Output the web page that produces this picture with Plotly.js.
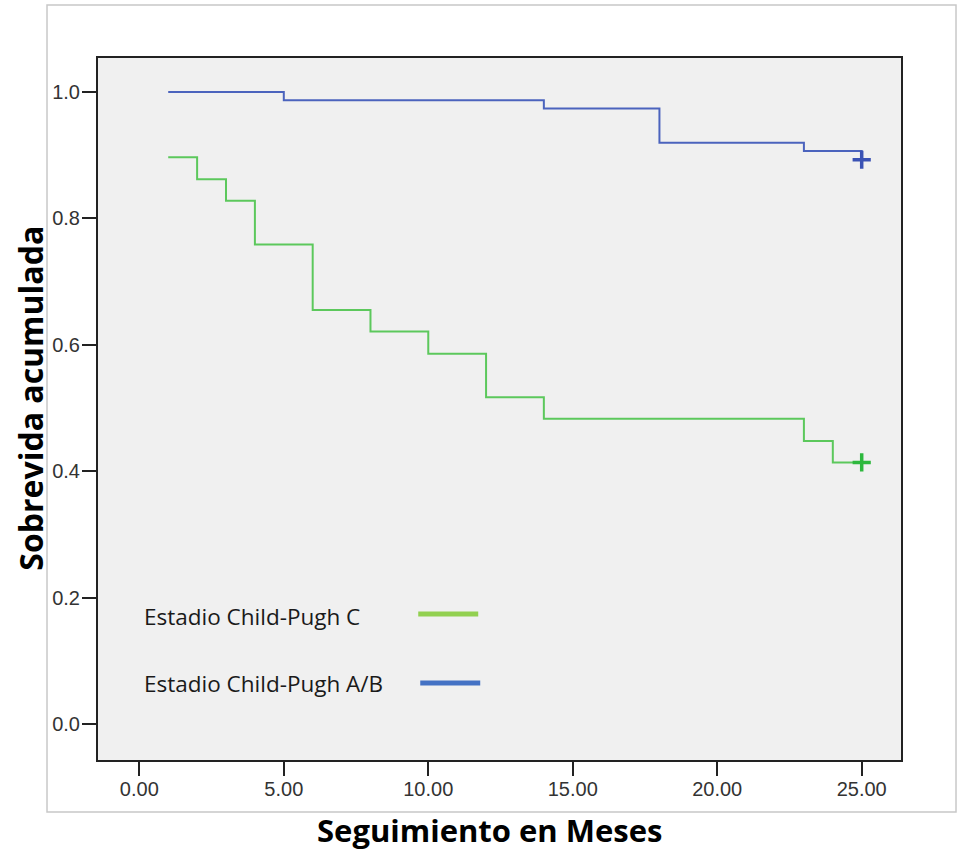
<!DOCTYPE html>
<html>
<head>
<meta charset="utf-8">
<script src="https://cdn.plot.ly/plotly-3.0.1.min.js"></script>
<style>html,body{margin:0;padding:0;background:#fff;}#chart{width:958px;height:852px;}</style>
</head>
<body>
<div id="chart"></div>
<script>
// Kaplan-Meier data
const groupNames = ["Estadio Child-Pugh C", "Estadio Child-Pugh A/B"];
const monthsC = [1, 2, 3, 4, 6, 8, 10, 12, 14, 23, 24, 25];
const survC   = [0.897, 0.862, 0.828, 0.759, 0.655, 0.621, 0.586, 0.517, 0.483, 0.448, 0.414, 0.414];
const monthsAB = [1, 5, 14, 18, 23, 25];
const survAB   = [1.0, 0.987, 0.974, 0.920, 0.907, 0.893];
const censorC = [25];
const censorCSurv = [0.414];
const censorAB = [25];
const censorABSurv = [0.893];
const xTickVals = [0, 5, 10, 15, 20, 25];
const xTickText = ["0.00", "5.00", "10.00", "15.00", "20.00", "25.00"];
const yTickVals = [0, 0.2, 0.4, 0.6, 0.8, 1.0];
const yTickText = ["0.0", "0.2", "0.4", "0.6", "0.8", "1.0"];

const curveGreen = "#5cc85c", curveBlue = "#4b63bd";
const legGreen = "#92d050", legBlue = "#4472c4";

const traces = [
  {x: monthsC, y: survC, mode: "lines", line: {shape: "hv", color: curveGreen, width: 2}, hoverinfo: "skip", showlegend: false},
  {x: monthsAB, y: survAB, mode: "lines", line: {shape: "hv", color: curveBlue, width: 2}, hoverinfo: "skip", showlegend: false},
  {x: censorC, y: censorCSurv, mode: "markers", marker: {symbol: "cross-thin", size: 13, line: {color: "#2eb83e", width: 3.5}}, showlegend: false},
  {x: censorAB, y: censorABSurv, mode: "markers", marker: {symbol: "cross-thin", size: 13, line: {color: "#3a52b4", width: 3.5}}, showlegend: false}
];

const legendFont = {family: "Open Sans, sans-serif", size: 22.5, color: "#1a1a1a"};
const tickFont = {family: "Liberation Sans, Arial, sans-serif", size: 20, color: "#333"};
const layout = {
  width: 958, height: 852,
  margin: {l: 98, r: 57, t: 58, b: 92},
  paper_bgcolor: "#ffffff",
  plot_bgcolor: "#f0f0f0",
  showlegend: false,
  xaxis: {
    range: [-1.43, 26.36], tickvals: xTickVals, ticktext: xTickText,
    showgrid: false, zeroline: false, showline: true, mirror: true, linecolor: "#222", linewidth: 2,
    ticks: "outside", ticklen: 14, tickwidth: 2, tickcolor: "#222",
    ticklabelstandoff: -4, tickfont: tickFont
  },
  yaxis: {
    range: [-0.057, 1.054], tickvals: yTickVals, ticktext: yTickText,
    showgrid: false, zeroline: false, showline: true, mirror: true, linecolor: "#222", linewidth: 2,
    ticks: "outside", ticklen: 14, tickwidth: 2, tickcolor: "#222",
    ticklabelstandoff: -2, tickfont: tickFont
  },
  shapes: [
    {type: "rect", xref: "paper", yref: "paper", x0: -0.0635, x1: 1.0685, y0: -0.074, y1: 1.0755,
     line: {color: "#c8c8c8", width: 1.5}, fillcolor: "rgba(0,0,0,0)", layer: "below"},
    {type: "line", xref: "paper", yref: "paper", x0: 0.3988, x1: 0.4735, y0: 0.2081, y1: 0.2081,
     line: {color: legGreen, width: 5}},
    {type: "line", xref: "paper", yref: "paper", x0: 0.4013, x1: 0.476, y0: 0.1098, y1: 0.1098,
     line: {color: legBlue, width: 5}}
  ],
  annotations: [
    {xref: "paper", yref: "paper", x: 0.0548, y: 0.2051, xanchor: "left", yanchor: "middle",
     text: groupNames[0], showarrow: false, font: legendFont},
    {xref: "paper", yref: "paper", x: 0.0548, y: 0.1083, xanchor: "left", yanchor: "middle",
     text: groupNames[1], showarrow: false, font: legendFont},
    {xref: "paper", yref: "paper", x: 0.4881, y: -0.0997, xanchor: "center", yanchor: "middle",
     text: "<b>Seguimiento en Meses</b>", showarrow: false,
     font: {family: "Open Sans, sans-serif", size: 31, color: "#000"}},
    {xref: "paper", yref: "paper", x: -0.0845, y: 0.5149, xanchor: "center", yanchor: "middle",
     text: "<b>Sobrevida acumulada</b>", textangle: -90, showarrow: false,
     font: {family: "Open Sans, sans-serif", size: 32, color: "#000"}}
  ]
};

Plotly.newPlot("chart", traces, layout, {staticPlot: true, displayModeBar: false});
</script>
</body>
</html>
